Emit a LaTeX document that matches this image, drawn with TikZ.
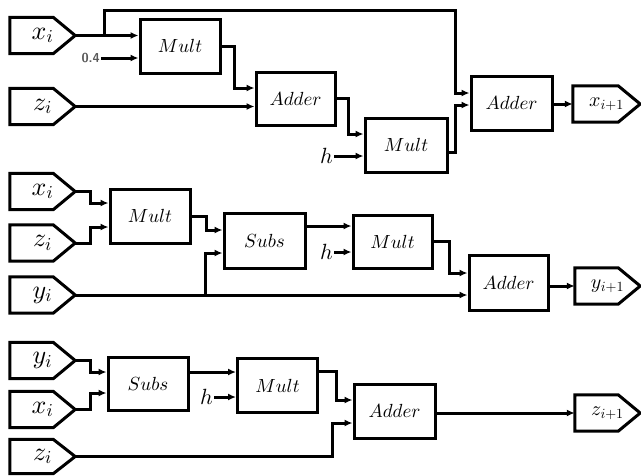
\documentclass[tikz,border=0pt]{standalone}
\DeclareFontShape{OML}{cmm}{m}{it}{<->cmmi10}{}
\DeclareFontShape{OT1}{cmr}{m}{n}{<->cmr10}{}
\DeclareFontShape{OT1}{cmss}{bx}{n}{<->cmssbx10}{}
\usetikzlibrary{arrows.meta,calc}
\newcommand\drawpent[1]{\draw[pentline] (#1.north west) -- ([xshift=-22pt]#1.north east) -- (#1.east) -- ([xshift=-22pt]#1.south east) -- (#1.south west) -- cycle;}
\begin{document}
\begin{tikzpicture}[x=1pt,y=-1pt,
  box/.style={draw, line width=3pt, inner sep=0pt, font=\fontsize{19}{20}\selectfont},
  bx/.style 2 args={box, minimum width=#1, minimum height=#2},
  pent/.style={minimum width=65pt, minimum height=36pt, inner sep=0pt, font=\fontsize{26}{28}\selectfont},
  pento/.style={pent, font=\fontsize{20}{22}\selectfont},
  pentline/.style={line width=3pt},
  arr/.style={line width=3pt, -{Latex[length=8pt,width=7pt]}},
  hlbl/.style={anchor=east, inner sep=1pt, font=\fontsize{22}{24}\selectfont},
  numlbl/.style={anchor=east, inner sep=1pt, text=black!65, font=\sffamily\bfseries\fontsize{13}{15}\selectfont}
]
\useasboundingbox (0,0) rectangle (641,475);

% ---------- top ----------
\node[pent] (xi1) at (42.5,35.5) {$x_i$\hspace{30pt}};
\node[pent] (zi1) at (42.5,106.5) {$z_i$\hspace{30pt}};
\node[bx={80pt}{54pt}] (mult1) at (180,46) {$Mult$};
\node[bx={79pt}{53pt}] (adder1) at (295.5,98.5) {$Adder$};
\node[bx={82pt}{54pt}] (mult2) at (406,145) {$Mult$};
\node[bx={81pt}{54pt}] (adder3) at (511.5,103) {$Adder$};
\node[pento, minimum width=67pt] (xo1) at (606.5,104) {$x_{i+1}$\hspace{28pt}};
\drawpent{xi1}\drawpent{zi1}\drawpent{xo1}
\node[numlbl] (c04) at (101,58) {0.4};
\node[hlbl] (h1) at (334,156) {$h$};

\draw[arr] (xi1.east) -- (xi1.east -| mult1.west);
\draw[arr] ([xshift=29pt]xi1.east) -- ++(0,-25.5) -| ([xshift=-14pt,yshift=10pt]adder3.west) -- ([yshift=10pt]adder3.west);
\draw[arr] (c04.east) -- (c04.east -| mult1.west);
\draw[arr] (mult1.east) -| ([xshift=-20pt,yshift=10.5pt]adder1.west) -- ([yshift=10.5pt]adder1.west);
\draw[arr] (zi1.east) -- (zi1.east -| adder1.west);
\draw[arr] (adder1.east) -| ([xshift=-15pt,yshift=11pt]mult2.west) -- ([yshift=11pt]mult2.west);
\draw[arr] (h1.east) -- (h1.east -| mult2.west);
\draw[arr] ([yshift=-7pt]mult2.east) -| ([xshift=-14pt,yshift=-2pt]adder3.west) -- ([yshift=-2pt]adder3.west);
\draw[arr] (xo1.west -| adder3.east) -- (xo1.west);

% ---------- middle ----------
\node[pent] (xi2) at (42.5,191.5) {$x_i$\hspace{30pt}};
\node[pent] (zi2) at (42.5,243) {$z_i$\hspace{30pt}};
\node[pent] (yi2) at (42.5,295) {$y_i$\hspace{30pt}};
\node[bx={80pt}{54pt}] (mult3) at (150,216) {$Mult$};
\node[bx={81pt}{55pt}] (subs1) at (264.5,240.5) {$Subs$};
\node[bx={79pt}{53pt}] (mult4) at (392.5,241.5) {$Mult$};
\node[bx={79pt}{55pt}] (adder2) at (508.5,282.5) {$Adder$};
\node[pento] (yo2) at (607.5,286) {$y_{i+1}$\hspace{28pt}};
\drawpent{xi2}\drawpent{zi2}\drawpent{yi2}\drawpent{yo2}
\node[hlbl] (h2) at (334,252) {$h$};

\draw[arr] (xi2.east) -- ++(15,0) |- ([yshift=13pt]mult3.west);
\draw[arr] (zi2.east) -- ++(15,0) |- ([yshift=-11pt]mult3.west);
\draw[arr] (mult3.east) -- ++(15,0) |- ([yshift=10.5pt]subs1.west);
\draw[arr] (yi2.east) -- (yi2.east -| adder2.west);
\draw[arr] ([xshift=130pt]yi2.east) |- ([yshift=-12.5pt]subs1.west);
\draw[arr] ([yshift=14.5pt]subs1.east) -- ([yshift=15.5pt]mult4.west);
\draw[arr] (h2.east) -- (h2.east -| mult4.west);
\draw[arr] (mult4.east) -- ++(16,0) |- ([yshift=9.5pt]adder2.west);
\draw[arr] (yo2.west -| adder2.east) -- (yo2.west);

% ---------- bottom ----------
\node[pent] (yi3) at (42.5,360.5) {$y_i$\hspace{30pt}};
\node[pent] (xi3) at (42.5,409.5) {$x_i$\hspace{30pt}};
\node[pent, minimum height=34pt] (zi3) at (42.5,456.5) {$z_i$\hspace{30pt}};
\node[bx={80pt}{53pt}] (subs2) at (148,383.5) {$Subs$};
\node[bx={80pt}{54pt}] (mult5) at (277.5,385.5) {$Mult$};
\node[bx={81pt}{54pt}] (adder4) at (394.5,411) {$Adder$};
\node[pento] (zo3) at (607.5,413) {$z_{i+1}$\hspace{28pt}};
\drawpent{yi3}\drawpent{xi3}\drawpent{zi3}\drawpent{zo3}
\node[hlbl] (h3) at (214,397) {$h$};

\draw[arr] (yi3.east) -- ++(15,0) |- ([yshift=11.5pt]subs2.west);
\draw[arr] (xi3.east) -- ++(15,0) |- ([yshift=-9.5pt]subs2.west);
\draw[arr] ([yshift=11.5pt]subs2.east) -- ([yshift=13.5pt]mult5.west);
\draw[arr] (h3.east) -- (h3.east -| mult5.west);
\draw[arr] ([yshift=14.5pt]mult5.east) -- ++(17,0) |- ([yshift=11pt]adder4.west);
\draw[arr] (zi3.east) -| ([xshift=-20pt,yshift=-12pt]adder4.west) -- ([yshift=-12pt]adder4.west);
\draw[arr] (zo3.west -| adder4.east) -- (zo3.west);
\end{tikzpicture}
\end{document}
